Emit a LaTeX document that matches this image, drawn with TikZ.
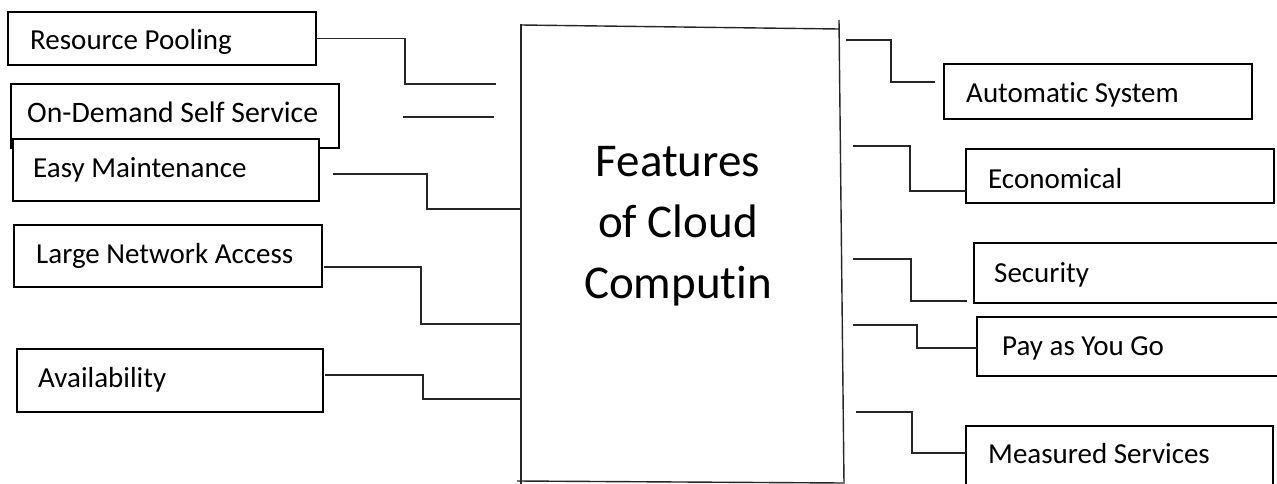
\documentclass[tikz,border=0pt]{standalone}
\usepackage{fontspec}
\setmainfont{Carlito}[Ligatures=NoCommon]
\begin{document}
\begin{tikzpicture}[x=1pt,y=-1pt,
  box/.style={draw=black, line width=1.8pt, fill=white, anchor=north west,
              inner sep=0pt, outer sep=0pt},
  lbl/.style={anchor=base west, inner sep=0pt,
              font=\fontsize{29}{34}\selectfont},
  link/.style={draw=black!85, line width=1.3pt},
  core/.style={draw=black!85, line width=1.4pt},
  title/.style={align=center, inner sep=0pt,
                font=\fontsize{47}{61}\selectfont}]

\useasboundingbox (0,0) rectangle (1277,484);
\fill[white] (0,0) rectangle (1277,484);
\clip (0,0) rectangle (1277,484);

% ---- central block -------------------------------------------------
\coordinate (coreTL) at (521,25);
\coordinate (coreTR) at (839,29);
\coordinate (coreLtop) at (521,24);
\coordinate (coreLbot) at (521,484);
\coordinate (coreRtop) at (839,20);
\coordinate (coreRbot) at (844,484);
\coordinate (coreBL) at (517,481);
\coordinate (coreBR) at (843,483);
\draw[core] (coreTL) -- (coreTR);
\draw[core] (coreLtop) -- (coreLbot);
\draw[core] (coreRtop) -- (coreRbot);
\draw[core] (coreBL) -- (coreBR);
\node[title] (title) at (678,226) {Features\\of Cloud\\Computin};

% ---- left-hand features --------------------------------------------
\node[box, minimum width=308pt, minimum height=53pt] (rp)  at (8,12)   {};
\node[box, minimum width=328pt, minimum height=64pt] (ods) at (11,84)  {};
\node[box, minimum width=306pt, minimum height=62pt] (em)  at (13,139) {};
\node[box, minimum width=308pt, minimum height=62pt] (lna) at (14,225) {};
\node[box, minimum width=306pt, minimum height=63pt] (av)  at (17,349) {};

\node[lbl] (rpT)  at (30,50)  {Resource Pooling};
\node[lbl, font=\fontsize{29.7}{35}\selectfont] (odsT) at (27,123) {On-Demand Self Service};
\node[lbl] (emT)  at (33,177) {Easy Maintenance};
\node[lbl] (lnaT) at (36,263) {Large Network Access};
\node[lbl] (avT)  at (38,387) {Availability};

\coordinate (rpB)  at (496,84);
\coordinate (odsA) at (403,117);
\coordinate (odsB) at (494,117);
\coordinate (emA)  at (333,174);
\coordinate (emB)  at (521,209);
\coordinate (lnaA) at (324,267);
\coordinate (lnaB) at (521,324);
\coordinate (avA)  at (325,375);
\coordinate (avB)  at (521,399);

\draw[link] (rp.east) -- ++(89,0) |- (rpB);
\draw[link] (odsA) -- (odsB);
\draw[link] (emA)  -- ++(94,0) |- (emB);
\draw[link] (lnaA) -- ++(97,0) |- (lnaB);
\draw[link] (avA)  -- ++(98,0) |- (avB);

% ---- right-hand features -------------------------------------------
\node[box, minimum width=308pt, minimum height=55pt] (as)  at (944,64)  {};
\node[box, minimum width=308pt, minimum height=54pt] (eco) at (966,149) {};
\node[box, minimum width=330pt, minimum height=60pt] (sec) at (974,243) {};
\node[box, minimum width=330pt, minimum height=59pt] (pay) at (977,317) {};
\node[box, minimum width=307pt, minimum height=80pt] (ms)  at (966,426) {};

\node[lbl] (asT)  at (966,103)  {Automatic System};
\node[lbl] (ecoT) at (988,188)  {Economical};
\node[lbl] (secT) at (994,282)  {Security};
\node[lbl] (payT) at (1002,355) {Pay as You Go};
\node[lbl] (msT)  at (988,463)  {Measured Services};

\coordinate (asA)  at (846,40);
\coordinate (asB)  at (935,82);
\coordinate (ecoA) at (853,146);
\coordinate (ecoB) at (966,191);
\coordinate (secA) at (853,259);
\coordinate (secB) at (967,301);
\coordinate (payA) at (853,325);
\coordinate (payB) at (977,348);
\coordinate (msA)  at (856,412);
\coordinate (msB)  at (966,453);

\draw[link] (asA)  -- ++(45,0) |- (asB);
\draw[link] (ecoA) -- ++(57,0) |- (ecoB);
\draw[link] (secA) -- ++(58,0) |- (secB);
\draw[link] (payA) -- ++(64,0) |- (payB);
\draw[link] (msA)  -- ++(56,0) |- (msB);
\end{tikzpicture}
\end{document}
